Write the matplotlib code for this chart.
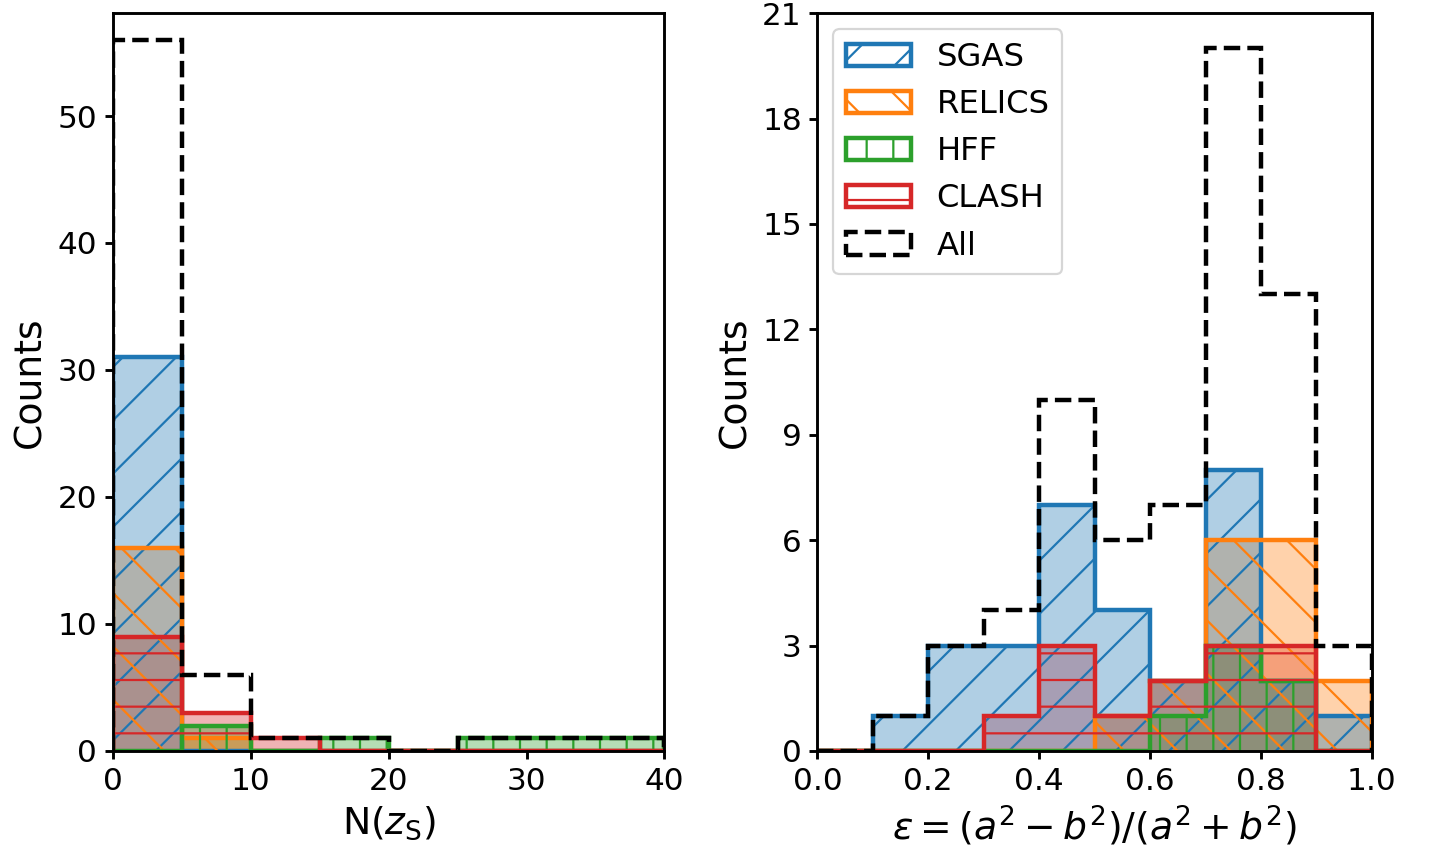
import matplotlib
matplotlib.use("Agg")
import matplotlib.pyplot as plt
import numpy as np

# left panel: number of spectroscopic redshifts, bins of width 5
nz_bins = np.arange(0, 45, 5)
nz_sgas = [31, 0, 0, 0, 0, 0, 0, 0]
nz_relics = [16, 1, 0, 0, 0, 0, 0, 0]
nz_hff = [0, 2, 0, 1, 0, 1, 1, 1]
nz_clash = [9, 3, 1, 0, 0, 0, 0, 0]
nz_all = [56, 6, 1, 1, 0, 1, 1, 1]

# right panel: ellipticity, bins of width 0.1
ell_bins = np.linspace(0, 1, 11)
ell_sgas = [0, 1, 3, 3, 7, 4, 2, 8, 2, 1]
ell_relics = [0, 0, 0, 0, 0, 1, 2, 6, 6, 2]
ell_hff = [0, 0, 0, 0, 0, 0, 1, 3, 2, 0]
ell_clash = [0, 0, 0, 1, 3, 1, 2, 3, 3, 0]
ell_all = [0, 1, 3, 4, 10, 6, 7, 20, 13, 3]

names = ['SGAS', 'RELICS', 'HFF', 'CLASH']
colors = ['tab:blue', 'tab:orange', 'tab:green', 'tab:red']
hatches = ['/', '\\', '|', '-']

plt.rcParams['font.size'] = 14
plt.rcParams['axes.labelsize'] = 17
plt.rcParams['legend.fontsize'] = 14.5
plt.rcParams['hatch.linewidth'] = 1.0
plt.rcParams['axes.linewidth'] = 1.3
plt.rcParams['xtick.major.width'] = 1.3
plt.rcParams['ytick.major.width'] = 1.3
plt.rcParams['xtick.major.size'] = 3.5
plt.rcParams['ytick.major.size'] = 3.5


def draw_panel(ax, bins, series, total):
    centers = 0.5 * (bins[1:] + bins[:-1])
    handles = []
    # outlines with hatching first
    for name, counts, c, h in zip(names, series, colors, hatches):
        _, _, p = ax.hist(centers, bins, weights=counts, histtype='step',
                          color=c, lw=2, hatch=h, label=name)
        handles.append(p[0])
    # translucent fills on top, last sample drawn first
    for counts, c in reversed(list(zip(series, colors))):
        ax.hist(centers, bins, weights=counts, histtype='stepfilled',
                color=c, alpha=0.35)
    _, _, p = ax.hist(centers, bins, weights=total, histtype='step',
                      color='k', ls='--', lw=2, label='All')
    handles.append(p[0])
    return handles


fig = plt.figure(figsize=(1429 / 160, 853 / 160), dpi=160)
ax1 = fig.add_axes([0.079, 0.1196, 0.386, 0.865])
ax2 = fig.add_axes([0.572, 0.1196, 0.388, 0.865])

draw_panel(ax1, nz_bins, [nz_sgas, nz_relics, nz_hff, nz_clash], nz_all)
ax1.set_xlim(0, 40)
ax1.set_ylim(0, 58.1)
ax1.set_xticks([0, 10, 20, 30, 40])
ax1.set_yticks([0, 10, 20, 30, 40, 50])
ax1.set_xlabel(r'N($z_\mathrm{S}$)')
ax1.set_ylabel('Counts')

handles = draw_panel(ax2, ell_bins, [ell_sgas, ell_relics, ell_hff, ell_clash], ell_all)
ax2.set_xlim(0, 1)
ax2.set_ylim(0, 21)
ax2.set_yticks(np.arange(0, 22, 3))
ax2.set_xlabel(r'$\varepsilon = (a^2 - b^2)/(a^2 + b^2)$')
ax2.set_ylabel('Counts')
ax2.legend(handles=handles, loc='upper left')

fig.savefig('out.png', dpi=160)
